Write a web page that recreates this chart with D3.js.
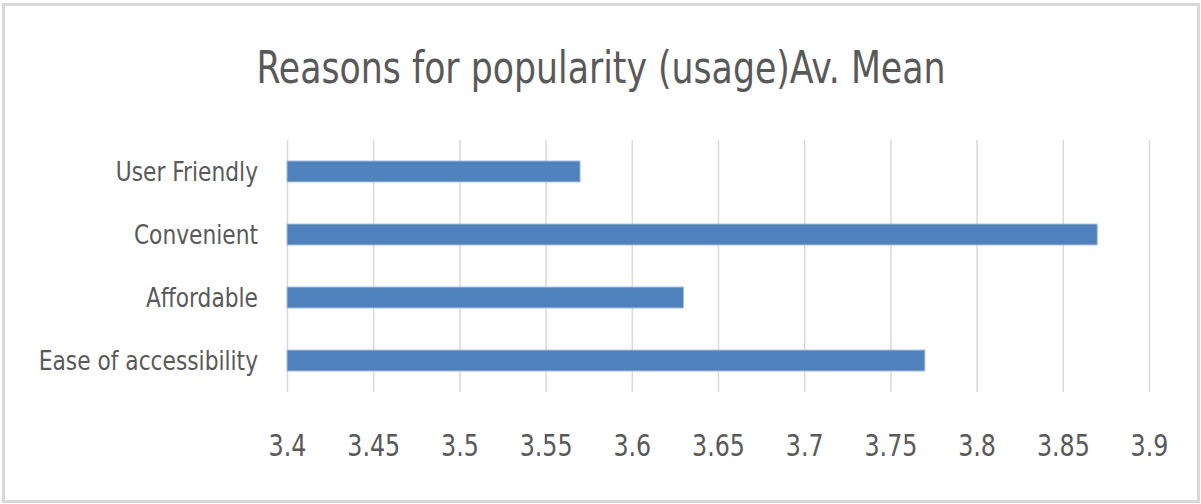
<!DOCTYPE html>
<html>
<head>
<meta charset="utf-8">
<script src="https://cdn.jsdelivr.net/npm/d3@7"></script>
<style>
  html, body { margin: 0; padding: 0; background: #fff; }
  svg { display: block; }
  text { font-family: "Liberation Sans Narrow", "DejaVu Sans Condensed", "Arial Narrow", sans-serif; fill: #595959; }
</style>
</head>
<body>
<svg id="chart" width="1201" height="504"></svg>
<script>
// ---- data ----
const title = "Reasons for popularity (usage)Av. Mean";
const categories = ["User Friendly", "Convenient", "Affordable", "Ease of accessibility"];
const values = [3.57, 3.87, 3.63, 3.77];
const tickValues = [3.4, 3.45, 3.5, 3.55, 3.6, 3.65, 3.7, 3.75, 3.8, 3.85, 3.9];
const tickLabels = ["3.4", "3.45", "3.5", "3.55", "3.6", "3.65", "3.7", "3.75", "3.8", "3.85", "3.9"];

// ---- layout ----
const W = 1201, H = 504;
const plot = { left: 287, right: 1149, top: 140, bottom: 392 };

// narrow the glyphs horizontally to mimic a condensed face
function squeeze(sel, factor) {
  sel.each(function () {
    const len = this.getComputedTextLength();
    d3.select(this).attr("textLength", len * factor).attr("lengthAdjust", "spacingAndGlyphs");
  });
}

const svg = d3.select("#chart");

// outer border
svg.append("rect")
  .attr("x", 3.5).attr("y", 4.5)
  .attr("width", W - 6).attr("height", H - 7)
  .attr("fill", "#fff")
  .attr("stroke", "#d9d9d9")
  .attr("stroke-width", 3);

const x = d3.scaleLinear().domain([3.4, 3.9]).range([plot.left, plot.right]);
const y = d3.scaleBand().domain(categories).range([plot.top, plot.bottom]).paddingInner(0.667).paddingOuter(0.333);

// gridlines
const grid = d3.axisBottom(x).tickValues(tickValues).tickSize(plot.bottom - plot.top).tickFormat("");
svg.append("g")
  .attr("transform", `translate(0,${plot.top})`)
  .call(grid)
  .call(g => g.select(".domain").remove())
  .call(g => g.selectAll("line").attr("stroke", "#d9d9d9").attr("stroke-width", 1.5));

// bars
svg.append("g").selectAll("rect")
  .data(categories)
  .join("rect")
  .attr("x", x(3.4))
  .attr("y", d => y(d))
  .attr("width", (d, i) => x(values[i]) - x(3.4))
  .attr("height", y.bandwidth())
  .attr("fill", "#4f81bd")
  .attr("stroke", "#a9c1e0")
  .attr("stroke-width", 1);

// x tick labels
const xAxis = d3.axisBottom(x).tickValues(tickValues).tickSize(0)
  .tickFormat((d, i) => tickLabels[i]);
svg.append("g")
  .attr("transform", `translate(0,${plot.bottom})`)
  .call(xAxis)
  .call(g => g.select(".domain").remove())
  .call(g => g.selectAll("text")
    .attr("dy", null)
    .attr("y", 64)
    .style("font-size", "30px")
    .attr("fill", "#595959")
    .call(squeeze, 0.88));

// y category labels
const yAxis = d3.axisLeft(y).tickSize(0).tickPadding(0);
svg.append("g")
  .attr("transform", `translate(${plot.left - 29},0)`)
  .call(yAxis)
  .call(g => g.select(".domain").remove())
  .call(g => g.selectAll("text")
    .attr("dy", "0.36em")
    .style("font-size", "26px")
    .attr("fill", "#595959")
    .call(squeeze, 0.93));

// title
svg.append("text")
  .attr("x", 601)
  .attr("y", 83)
  .attr("text-anchor", "middle")
  .style("font-size", "44px")
  .text(title)
  .call(squeeze, 0.877);
</script>
</body>
</html>
